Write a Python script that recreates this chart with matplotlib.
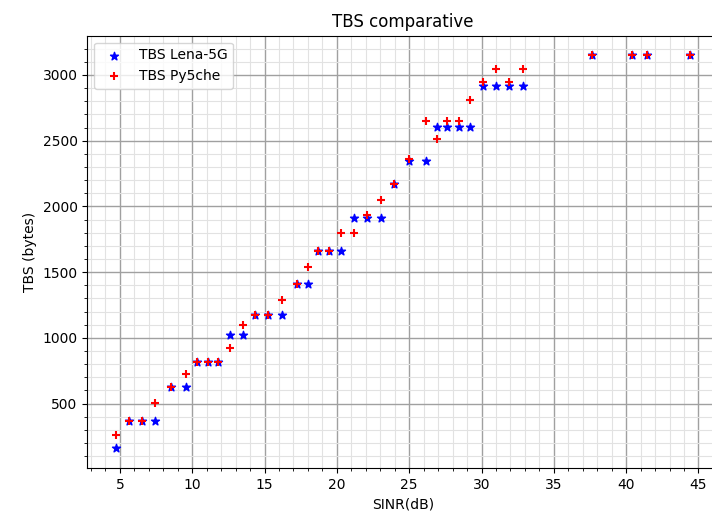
import numpy as np
import matplotlib
matplotlib.use('Agg')
import matplotlib.pyplot as plt

# SINR operating points (dB) shared by both simulators
sinr = [4.73, 5.60, 6.53, 7.45, 8.53, 9.60, 10.35, 11.09, 11.80, 12.62,
        13.50, 14.36, 15.24, 16.20, 17.24, 17.99, 18.69, 19.47, 20.30, 21.16,
        22.08, 23.03, 23.96, 25.02, 26.14, 26.95, 27.63, 28.43, 29.19, 30.08,
        31.00, 31.93, 32.86, 37.64, 40.43, 41.43, 44.42]

# transport block size in bytes
tbs_lena = [159, 368, 368, 368, 626, 626, 818, 818, 818, 1025,
            1025, 1171, 1171, 1171, 1411, 1411, 1659, 1659, 1659, 1911,
            1911, 1911, 2174, 2345, 2345, 2606, 2606, 2606, 2606, 2917,
            2917, 2917, 2917, 3149, 3149, 3149, 3149]
tbs_py5che = [262, 368, 368, 502, 626, 722, 818, 818, 818, 919,
              1101, 1171, 1171, 1285, 1411, 1538, 1659, 1659, 1795, 1795,
              1934, 2050, 2174, 2360, 2649, 2513, 2649, 2649, 2806, 2947,
              3048, 2947, 3048, 3149, 3149, 3149, 3149]

fig = plt.figure(figsize=(7.12, 5.2), dpi=100)
ax = fig.add_axes([87.3/712, 52/520, 631.5/712, 432.3/520])

ax.scatter(sinr, tbs_lena, marker='*', color='b', label='TBS Lena-5G')
ax.scatter(sinr, tbs_py5che, marker='+', color='r', label='TBS Py5che')

ax.set_title('TBS comparative')
ax.set_xlabel('SINR(dB)')
ax.set_ylabel('TBS (bytes)')

ax.minorticks_on()
ax.grid(which='major', color='#a0a0a0', linewidth=1.0)
ax.grid(which='minor', color='#e2e2e2', linewidth=0.8)
ax.set_axisbelow(True)
ax.legend(loc='upper left')

fig.savefig('out.png', dpi=100)
